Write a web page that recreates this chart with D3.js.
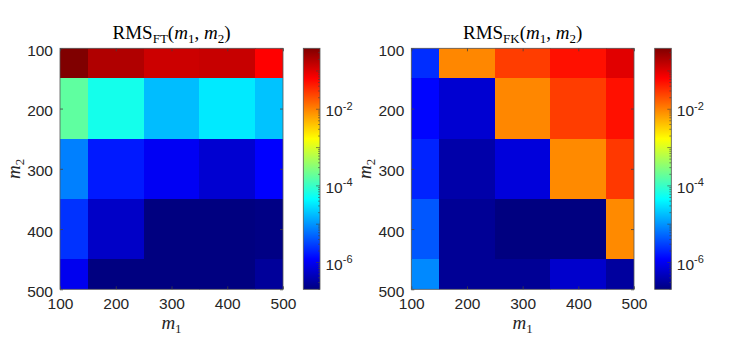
<!DOCTYPE html>
<html><head><meta charset="utf-8">
<script src="https://cdn.jsdelivr.net/npm/d3@7"></script>
<style>body{margin:0;background:#fff} svg{display:block}</style>
</head><body><svg id="c" width="747" height="337"></svg>
<script>
// ---------------- data ----------------
const m1Values = [100, 200, 300, 400, 500];
const m2Values = [100, 200, 300, 400, 500];
// rows: m2 = 100..500, columns: m1 = 100..500
const rmsFT = [
  [0.39,    0.197,   0.131,   0.141,   0.064],
  [1.75e-4, 6.1e-5,  1.8e-5,  3.4e-5,  1.94e-5],
  [7.5e-6,  1.75e-6, 1.05e-6, 6.4e-7,  1.22e-6],
  [2.5e-6,  5.5e-7,  2.0e-7,  2.0e-7,  2.15e-7],
  [9.8e-7,  2.0e-7,  2.0e-7,  2.0e-7,  2.9e-7]
];
const rmsFK = [
  [2.3e-6,  9.4e-3,  0.027,   0.051,   0.098],
  [1.3e-6,  6.4e-7,  9.4e-3,  0.027,   0.051],
  [2.0e-6,  3.6e-7,  7.3e-7,  9.0e-3,  0.0287],
  [4.2e-6,  2.7e-7,  2.0e-7,  2.0e-7,  9.0e-3],
  [8.6e-6,  2.7e-7,  2.7e-7,  5.9e-7,  3.1e-7]
];
const colorLimits = [2.0e-7, 0.39];
const axisTicks = [100, 200, 300, 400, 500];
const colorbarLabelExps = [-2, -4, -6];

// ---------------- helpers ----------------
function jet(t) {
  t = Math.max(0, Math.min(1, t));
  const c = v => Math.round(255 * Math.max(0, Math.min(1, v)));
  return `rgb(${c(1.5 - Math.abs(4*t - 3))},${c(1.5 - Math.abs(4*t - 2))},${c(1.5 - Math.abs(4*t - 1))})`;
}
const tScale = d3.scaleLog().domain(colorLimits).range([0, 1]).clamp(true);

const svg = d3.select('#c');
const SANS = '"Liberation Sans", Arial, Helvetica, sans-serif';
const SERIF = '"Liberation Serif", "Times New Roman", serif';
const TXT = '#262626';
const Y0 = 48.3, Y1 = 289.3;

const defs = svg.append('defs');
const grad = defs.append('linearGradient').attr('id', 'jetgrad')
  .attr('x1', 0).attr('y1', 1).attr('x2', 0).attr('y2', 0);
[0, 0.125, 0.375, 0.625, 0.875, 1].forEach(s => {
  grad.append('stop').attr('offset', s).attr('stop-color', jet(s));
});

function panel(opts) {
  const { id, X0, X1, data, sub, cbX0, cbX1 } = opts;
  const x = d3.scaleLinear().domain([100, 500]).range([X0, X1]);
  const y = d3.scaleLinear().domain([100, 500]).range([Y0, Y1]);
  const g = svg.append('g');

  defs.append('clipPath').attr('id', 'clip' + id)
    .append('rect').attr('x', X0).attr('y', Y0).attr('width', X1 - X0).attr('height', Y1 - Y0);

  const cells = [];
  data.forEach((row, i) => row.forEach((v, j) => cells.push({ m1: m1Values[j], m2: m2Values[i], v })));
  g.append('g').attr('clip-path', `url(#clip${id})`)
    .selectAll('rect').data(cells).join('rect')
    .attr('x', d => x(d.m1 - 50))
    .attr('y', d => y(d.m2 - 50))
    .attr('width', d => x(d.m1 + 50) - x(d.m1 - 50) + 0.5)
    .attr('height', d => y(d.m2 + 50) - y(d.m2 - 50) + 0.5)
    .attr('fill', d => jet(tScale(d.v)))
    .attr('shape-rendering', 'crispEdges');

  const styleAxis = sel => {
    sel.select('.domain').remove();
    sel.selectAll('.tick line').attr('stroke', '#404040').attr('stroke-width', 0.8);
    sel.selectAll('.tick text').style('font-family', SANS).style('font-size', '15.5px').attr('fill', TXT);
  };
  g.append('g').attr('transform', `translate(0,${Y1})`)
    .call(d3.axisBottom(x).tickValues(axisTicks).tickSize(-3).tickPadding(9).tickFormat(d3.format('d')))
    .call(styleAxis);
  g.append('g').attr('transform', `translate(0,${Y0})`)
    .call(d3.axisTop(x).tickValues(axisTicks).tickSize(-3).tickFormat(''))
    .call(styleAxis);
  g.append('g').attr('transform', `translate(${X0},0)`)
    .call(d3.axisLeft(y).tickValues(axisTicks).tickSize(-3).tickPadding(7).tickFormat(d3.format('d')))
    .call(styleAxis)
    .selectAll('.tick text').attr('dy', '0.45em');
  g.append('g').attr('transform', `translate(${X1},0)`)
    .call(d3.axisRight(y).tickValues(axisTicks).tickSize(-3).tickFormat(''))
    .call(styleAxis);

  g.append('rect').attr('x', X0).attr('y', Y0).attr('width', X1 - X0).attr('height', Y1 - Y0)
    .attr('fill', 'none').attr('stroke', '#555').attr('stroke-width', 0.8);

  // title
  const cx = (X0 + X1) / 2;
  const t = g.append('text').attr('x', cx).attr('y', 39).attr('text-anchor', 'middle')
    .style('font-family', SERIF).style('font-size', '19px').attr('fill', '#000');
  t.append('tspan').text('RMS');
  t.append('tspan').text(sub).style('font-size', '13px').attr('dy', 3.5);
  t.append('tspan').text('(').attr('dy', -3.5);
  t.append('tspan').text('m').style('font-style', 'italic');
  t.append('tspan').text('1').style('font-size', '13px').attr('dy', 3.5);
  t.append('tspan').text(', ').attr('dy', -3.5);
  t.append('tspan').text('m').style('font-style', 'italic');
  t.append('tspan').text('2').style('font-size', '13px').attr('dy', 3.5);
  t.append('tspan').text(')').attr('dy', -3.5);

  // x label
  const xl = g.append('text').attr('x', cx).attr('y', 329).attr('text-anchor', 'middle')
    .style('font-family', SERIF).style('font-size', '19px').attr('fill', TXT);
  xl.append('tspan').text('m').style('font-style', 'italic');
  xl.append('tspan').text('1').style('font-size', '13px').attr('dy', 3.5);

  // y label
  const yl = g.append('text').attr('transform', `translate(${X0 - 40},${(Y0 + Y1) / 2}) rotate(-90)`)
    .attr('text-anchor', 'middle')
    .style('font-family', SERIF).style('font-size', '19px').attr('fill', TXT);
  yl.append('tspan').text('m').style('font-style', 'italic');
  yl.append('tspan').text('2').style('font-size', '13px').attr('dy', 3.5);

  // colorbar
  const cb = d3.scaleLog().domain(colorLimits).range([Y1, Y0]);
  g.append('rect').attr('x', cbX0).attr('y', Y0).attr('width', cbX1 - cbX0).attr('height', Y1 - Y0)
    .attr('fill', 'url(#jetgrad)');
  const minor = [];
  for (let e = -7; e <= 0; e++) for (let k = 1; k <= 9; k++) {
    const v = k * Math.pow(10, e);
    if (v >= colorLimits[0] && v <= colorLimits[1]) minor.push({ v, major: k === 1 });
  }
  g.selectAll(null).data(minor).join('line')
    .attr('x1', d => cbX1 - (d.major ? 4 : 2)).attr('x2', cbX1)
    .attr('y1', d => cb(d.v)).attr('y2', d => cb(d.v))
    .attr('stroke', '#404040').attr('stroke-width', 0.6);
  g.append('rect').attr('x', cbX0).attr('y', Y0).attr('width', cbX1 - cbX0).attr('height', Y1 - Y0)
    .attr('fill', 'none').attr('stroke', '#555').attr('stroke-width', 0.8);
  colorbarLabelExps.forEach(e => {
    const tt = g.append('text').attr('x', cbX1 + 5.5).attr('y', cb(Math.pow(10, e)) + 7)
      .style('font-family', SANS).style('font-size', '15.5px').attr('fill', TXT);
    tt.append('tspan').text('10');
    tt.append('tspan').text('-' + Math.abs(e)).style('font-size', '11px').attr('dy', -6.5);
  });
}

panel({ id: 'ft', X0: 60, X1: 283, data: rmsFT, sub: 'FT', cbX0: 303.3, cbX1: 320 });
panel({ id: 'fk', X0: 411.3, X1: 634, data: rmsFK, sub: 'FK', cbX0: 654.7, cbX1: 671.3 });
</script>
</body></html>
